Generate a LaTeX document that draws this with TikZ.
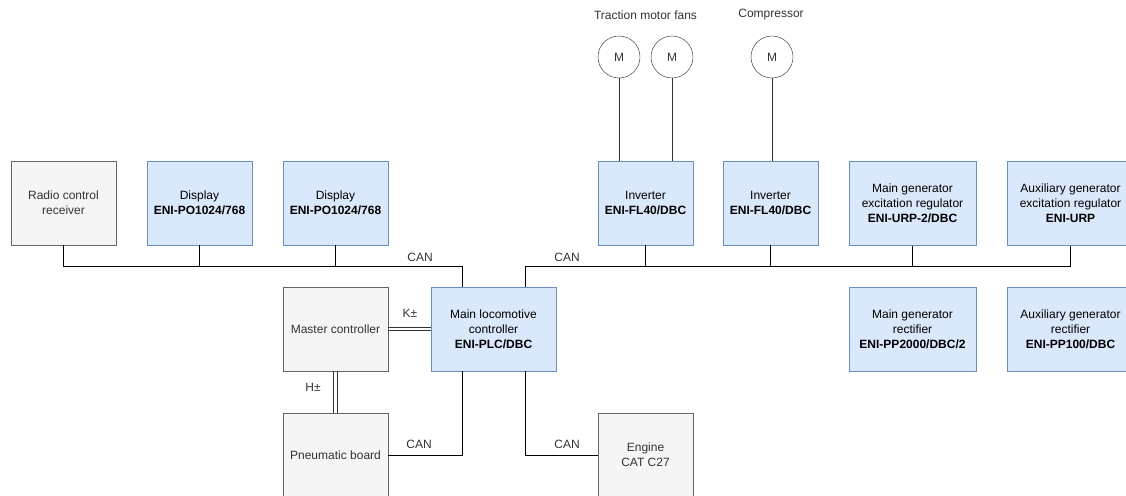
\documentclass[tikz,border=0pt]{standalone}
\usepackage{fontspec}
\setmainfont{Liberation Sans}
\usepackage{tikz}
\definecolor{blfill}{HTML}{DAE8FC}
\definecolor{blline}{HTML}{6C8EBF}
\definecolor{gyfill}{HTML}{F5F5F5}
\definecolor{gyline}{HTML}{666666}
\definecolor{gytext}{HTML}{333333}

\begin{document}
\begin{tikzpicture}[x=1pt,y=-1pt,
  every node/.style={font=\fontsize{12}{15}\selectfont,text=gytext},
  gbox/.style={draw=gyline,fill=gyfill,minimum width=105pt,minimum height=84pt,align=center,inner sep=0pt},
  bbox/.style={draw=blline,fill=blfill,text=black,minimum width=105pt,minimum height=84pt,align=center,inner sep=0pt},
  motor/.style={circle,draw=black!85,fill=white,minimum size=42pt,inner sep=0pt},
  bus/.style={line width=1pt,black},
  link/.style={line width=1pt,black!80}]
\useasboundingbox (0,0) rectangle (1126,495) ;
\node[gbox] (radio) at (63.5,203) {Radio control\\receiver} ;
\node[bbox] (disp1) at (199.5,203) {Display\\\textbf{ENI-PO1024/768}} ;
\node[bbox] (disp2) at (335.5,203) {Display\\\textbf{ENI-PO1024/768}} ;
\node[bbox,minimum width=95pt] (inv1) at (645.5,203) {Inverter\\\textbf{ENI-FL40/DBC}} ;
\node[bbox,minimum width=95pt] (inv2) at (770.5,203) {Inverter\\\textbf{ENI-FL40/DBC}} ;
\node[bbox,minimum width=127pt] (mgreg) at (912.5,203.5) {Main generator\\excitation regulator\\\textbf{ENI-URP-2/DBC}} ;
\node[bbox,minimum width=127pt] (agreg) at (1070.5,203.5) {Auxiliary generator\\excitation regulator\\\textbf{ENI-URP}} ;
\node[bbox,minimum width=127pt] (mgrect) at (912.5,329) {Main generator\\rectifier\\\textbf{ENI-PP2000/DBC/2}} ;
\node[bbox,minimum width=127pt] (agrect) at (1070.5,329) {Auxiliary generator\\rectifier\\\textbf{ENI-PP100/DBC}} ;
\node[gbox] (master) at (335.5,329) {Master controller} ;
\node[bbox,minimum width=125pt] (plc) at (493.5,329) {Main locomotive\\controller\\\textbf{ENI-PLC/DBC}} ;
\node[gbox] (pneu) at (335.5,455) {Pneumatic board} ;
\node[gbox,minimum width=95pt] (engine) at (645.5,455) {Engine\\CAT C27} ;
\node[motor] (m1) at (619,57) {M} ;
\node[motor] (m2) at (672,57) {M} ;
\node[motor] (m3) at (772,57) {M} ;
\node (fans) at (645.5,15) {Traction motor fans} ;
\node (comp) at (771,15) {Compressor} ;
\draw[black!80] (m1.south) -- (m1.south |- inv1.north) ;
\draw[black!80] (m2.south) -- (m2.south |- inv1.north) ;
\draw[black!80] (m3.south) -- (m3.south |- inv2.north) ;
\coordinate (canL) at (462,266) ;
\coordinate (canR) at (525,266) ;
\draw[bus] (radio.south) |- (canL) -- (canL |- plc.north) ;
\draw[bus] (disp1.south) -- (disp1.south |- canL) ;
\draw[bus] (disp2.south) -- (disp2.south |- canL) ;
\draw[bus] (canR |- plc.north) -- (canR) -| (agreg.south) ;
\draw[bus] (inv1.south) -- (inv1.south |- canR) ;
\draw[bus] (inv2.south) -- (inv2.south |- canR) ;
\draw[bus] (mgreg.south) -- (mgreg.south |- canR) ;
\draw[bus] (pneu.east) -| (canL |- plc.south) ;
\draw[bus] (canR |- plc.south) |- (engine.west) ;
\draw[link] ([yshift=1.6pt]master.east) -- ([yshift=1.6pt]plc.west) ;
\draw[link] ([yshift=-1.6pt]master.east) -- ([yshift=-1.6pt]plc.west) ;
\draw[link] ([xshift=-1.6pt]master.south) -- ([xshift=-1.6pt]pneu.north) ;
\draw[link] ([xshift=1.6pt]master.south) -- ([xshift=1.6pt]pneu.north) ;
\node (can1) at (420,257) {CAN} ;
\node (can2) at (567,257) {CAN} ;
\node (can3) at (419,444) {CAN} ;
\node (can4) at (567,444) {CAN} ;
\node (kpm) at (410,313) {K±} ;
\node (hpm) at (313,387) {H±} ;
\end{tikzpicture}
\end{document}
